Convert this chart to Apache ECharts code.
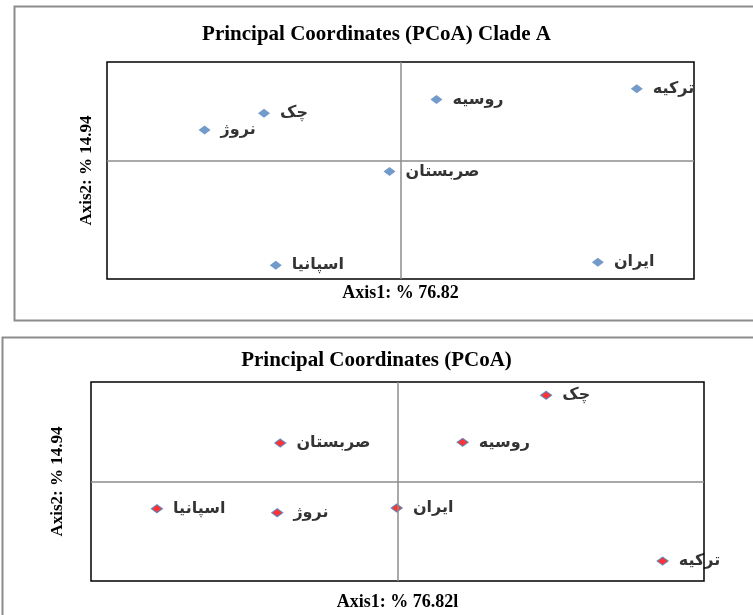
<!DOCTYPE html>
<html>
<head>
<meta charset="utf-8">
<title>PCoA</title>
<script src="https://cdn.jsdelivr.net/npm/echarts@6/dist/echarts.min.js"></script>
<style>
  html, body { margin: 0; padding: 0; background: #fff; }
  #main { width: 753px; height: 615px; }
</style>
</head>
<body>
<div id="main"></div>
<script>
// Clade A - points and coordinates
var countriesA = ['ترکیه', 'روسیه', 'چک', 'نروژ', 'صربستان', 'اسپانیا', 'ایران'];
var axis1A = [0.322, 0.049, -0.186, -0.267, -0.015, -0.170, 0.269];
var axis2A = [0.073, 0.062, 0.048, 0.031, -0.011, -0.106, -0.103];

// all samples
var countriesAll = ['چک', 'روسیه', 'صربستان', 'اسپانیا', 'نروژ', 'ایران', 'ترکیه'];
var axis1All = [0.194, 0.085, -0.153, -0.314, -0.157, -0.001, 0.346];
var axis2All = [0.130, 0.059, 0.058, -0.041, -0.047, -0.040, -0.120];

var titles = ['Principal Coordinates (PCoA) Clade A', 'Principal Coordinates (PCoA)'];
var axis1Names = ['Axis1: % 76.82', 'Axis1: % 76.82l'];
var axis2Names = ['Axis2: % 14.94', 'Axis2: % 14.94'];

function toPoints(names, xs, ys) {
    var out = [];
    for (var i = 0; i < names.length; i++) {
        out.push({ name: names[i], value: [xs[i], ys[i]] });
    }
    return out;
}

var serifBold = {
    fontFamily: 'Liberation Serif',
    fontWeight: 'bold',
    color: '#000'
};

function xAxisOf(gridIndex, name, gap) {
    return {
        type: 'value', gridIndex: gridIndex, min: -0.4, max: 0.4,
        name: name, nameLocation: 'middle', nameGap: gap,
        nameTextStyle: Object.assign({ fontSize: 18 }, serifBold),
        axisLine: { show: false, onZero: false },
        axisTick: { show: false }, axisLabel: { show: false }, splitLine: { show: false }
    };
}

function yAxisOf(gridIndex, name, gap, min, max) {
    return {
        type: 'value', gridIndex: gridIndex, min: min, max: max,
        name: name, nameLocation: 'middle', nameGap: gap,
        nameTextStyle: Object.assign({ fontSize: 17 }, serifBold),
        axisLine: { show: false, onZero: false },
        axisTick: { show: false }, axisLabel: { show: false }, splitLine: { show: false }
    };
}

// gray cross lines through the origin
var crossLines = {
    silent: true,
    symbol: 'none',
    label: { show: false },
    lineStyle: { color: '#8c8c8c', width: 1.5, type: 'solid' },
    data: [{ xAxis: 0 }, { yAxis: 0 }]
};

var pointLabel = {
    show: true,
    position: 'right',
    distance: 10,
    formatter: '{b}',
    fontFamily: 'DejaVu Sans',
    fontWeight: 'bold',
    fontSize: 16,
    color: '#000'
};

var chart = echarts.init(document.getElementById('main'));
chart.setOption({
    animation: false,
    backgroundColor: '#fff',
    title: [
        { text: titles[0], left: 'center', top: 19, textStyle: Object.assign({ fontSize: 21 }, serifBold) },
        { text: titles[1], left: 'center', top: 345, textStyle: Object.assign({ fontSize: 21 }, serifBold) }
    ],
    // outer frames of the two panels
    graphic: [
        { type: 'rect', shape: { x: 14.5, y: 6.5, width: 760, height: 314 }, style: { fill: 'none', stroke: '#8c8c8c', lineWidth: 2 }, silent: true },
        { type: 'rect', shape: { x: 2.5, y: 337.5, width: 770, height: 300 }, style: { fill: 'none', stroke: '#8c8c8c', lineWidth: 2 }, silent: true }
    ],
    grid: [
        { left: 107, top: 62, width: 587, height: 217, show: true, borderColor: '#000', borderWidth: 1.5, backgroundColor: '#fff' },
        { left: 91, top: 382, width: 613, height: 199, show: true, borderColor: '#000', borderWidth: 1.5, backgroundColor: '#fff' }
    ],
    xAxis: [
        xAxisOf(0, axis1Names[0], 5),
        xAxisOf(1, axis1Names[1], 12)
    ],
    yAxis: [
        yAxisOf(0, axis2Names[0], 12, -0.12, 0.10),
        yAxisOf(1, axis2Names[1], 25, -0.15, 0.15)
    ],
    series: [
        {
            type: 'scatter', xAxisIndex: 0, yAxisIndex: 0,
            symbol: 'diamond', symbolSize: [12, 9],
            itemStyle: { color: '#4F81BD' },
            label: pointLabel,
            markLine: crossLines,
            data: toPoints(countriesA, axis1A, axis2A)
        },
        {
            type: 'scatter', xAxisIndex: 1, yAxisIndex: 1,
            symbol: 'diamond', symbolSize: [11, 8],
            itemStyle: { color: '#FF0000', borderColor: '#4F81BD', borderWidth: 1.2 },
            label: pointLabel,
            markLine: crossLines,
            data: toPoints(countriesAll, axis1All, axis2All)
        }
    ]
});
</script>
</body>
</html>
